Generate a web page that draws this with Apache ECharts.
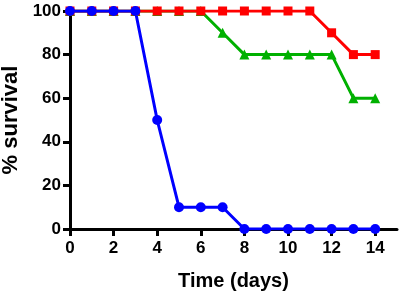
<!DOCTYPE html>
<html>
<head>
<meta charset="utf-8">
<script src="https://cdn.jsdelivr.net/npm/echarts@6/dist/echarts.min.js"></script>
<style>
	html, body { margin: 0; padding: 0; background: #fff; }
	#chart { width: 403px; height: 300px; }
</style>
</head>
<body>
<div id="chart"></div>
<script>
	// days 0..14
	var days = [0, 1, 2, 3, 4, 5, 6, 7, 8, 9, 10, 11, 12, 13, 14];
	var redSurvival = [100, 100, 100, 100, 100, 100, 100, 100, 100, 100, 100, 100, 90, 80, 80];
	var greenSurvival = [100, 100, 100, 100, 100, 100, 100, 90, 80, 80, 80, 80, 80, 60, 60];
	var blueSurvival = [100, 100, 100, 100, 50, 10, 10, 10, 0, 0, 0, 0, 0, 0, 0];
	var xTicks = [0, 2, 4, 6, 8, 10, 12, 14];
	var yTicks = [0, 20, 40, 60, 80, 100];

	function pairs(vals){
		var out = [];
		for(var i = 0; i < days.length; i++)
			out.push([days[i], vals[i]]);
		return out;
	}

	var fontFamily = '"Liberation Sans", Arial, sans-serif';
	var lineColor = '#000';

	function makeSeries(name, color, symbol, size, vals){
		return {
			name: name,
			type: 'line',
			data: pairs(vals),
			symbol: symbol,
			symbolSize: size,
			showAllSymbol: true,
			lineStyle: { color: color, width: 3 },
			itemStyle: { color: color },
			emphasis: { disabled: true }
		};
	}

	var chart = echarts.init(document.getElementById('chart'));
	chart.setOption({
		animation: false,
		grid: { left: 70, right: 6, top: 11, bottom: 71, containLabel: false, outerBoundsMode: 'none' },
		xAxis: {
			type: 'value',
			min: 0,
			max: 15,
			name: 'Time (days)',
			nameLocation: 'middle',
			nameGap: 42,
			nameTextStyle: { color: lineColor, fontWeight: 'bold', fontSize: 20, fontFamily: fontFamily },
			axisLine: { onZero: false, lineStyle: { color: lineColor, width: 3 } },
			// ticks only up to 14, the line runs on to 15
			axisTick: { show: true, length: 7, customValues: xTicks, lineStyle: { color: lineColor, width: 3 } },
			axisLabel: { customValues: xTicks, margin: 11, color: lineColor, fontWeight: 'bold', fontSize: 17, fontFamily: fontFamily },
			splitLine: { show: false }
		},
		yAxis: {
			type: 'value',
			min: yTicks[0],
			max: yTicks[yTicks.length - 1],
			interval: 20,
			name: '% survival',
			nameLocation: 'middle',
			nameGap: 43,
			nameTextStyle: { color: lineColor, fontWeight: 'bold', fontSize: 22, fontFamily: fontFamily },
			axisLine: { show: true, lineStyle: { color: lineColor, width: 3 } },
			axisTick: { show: true, length: 7, lineStyle: { color: lineColor, width: 3 } },
			axisLabel: { margin: 9, color: lineColor, fontWeight: 'bold', fontSize: 17, fontFamily: fontFamily },
			splitLine: { show: false }
		},
		series: [
			makeSeries('green', '#00b000', 'triangle', 10, greenSurvival),
			makeSeries('red', '#ff0000', 'rect', 9, redSurvival),
			makeSeries('blue', '#0000ff', 'circle', 10, blueSurvival)
		]
	});
</script>
</body>
</html>
